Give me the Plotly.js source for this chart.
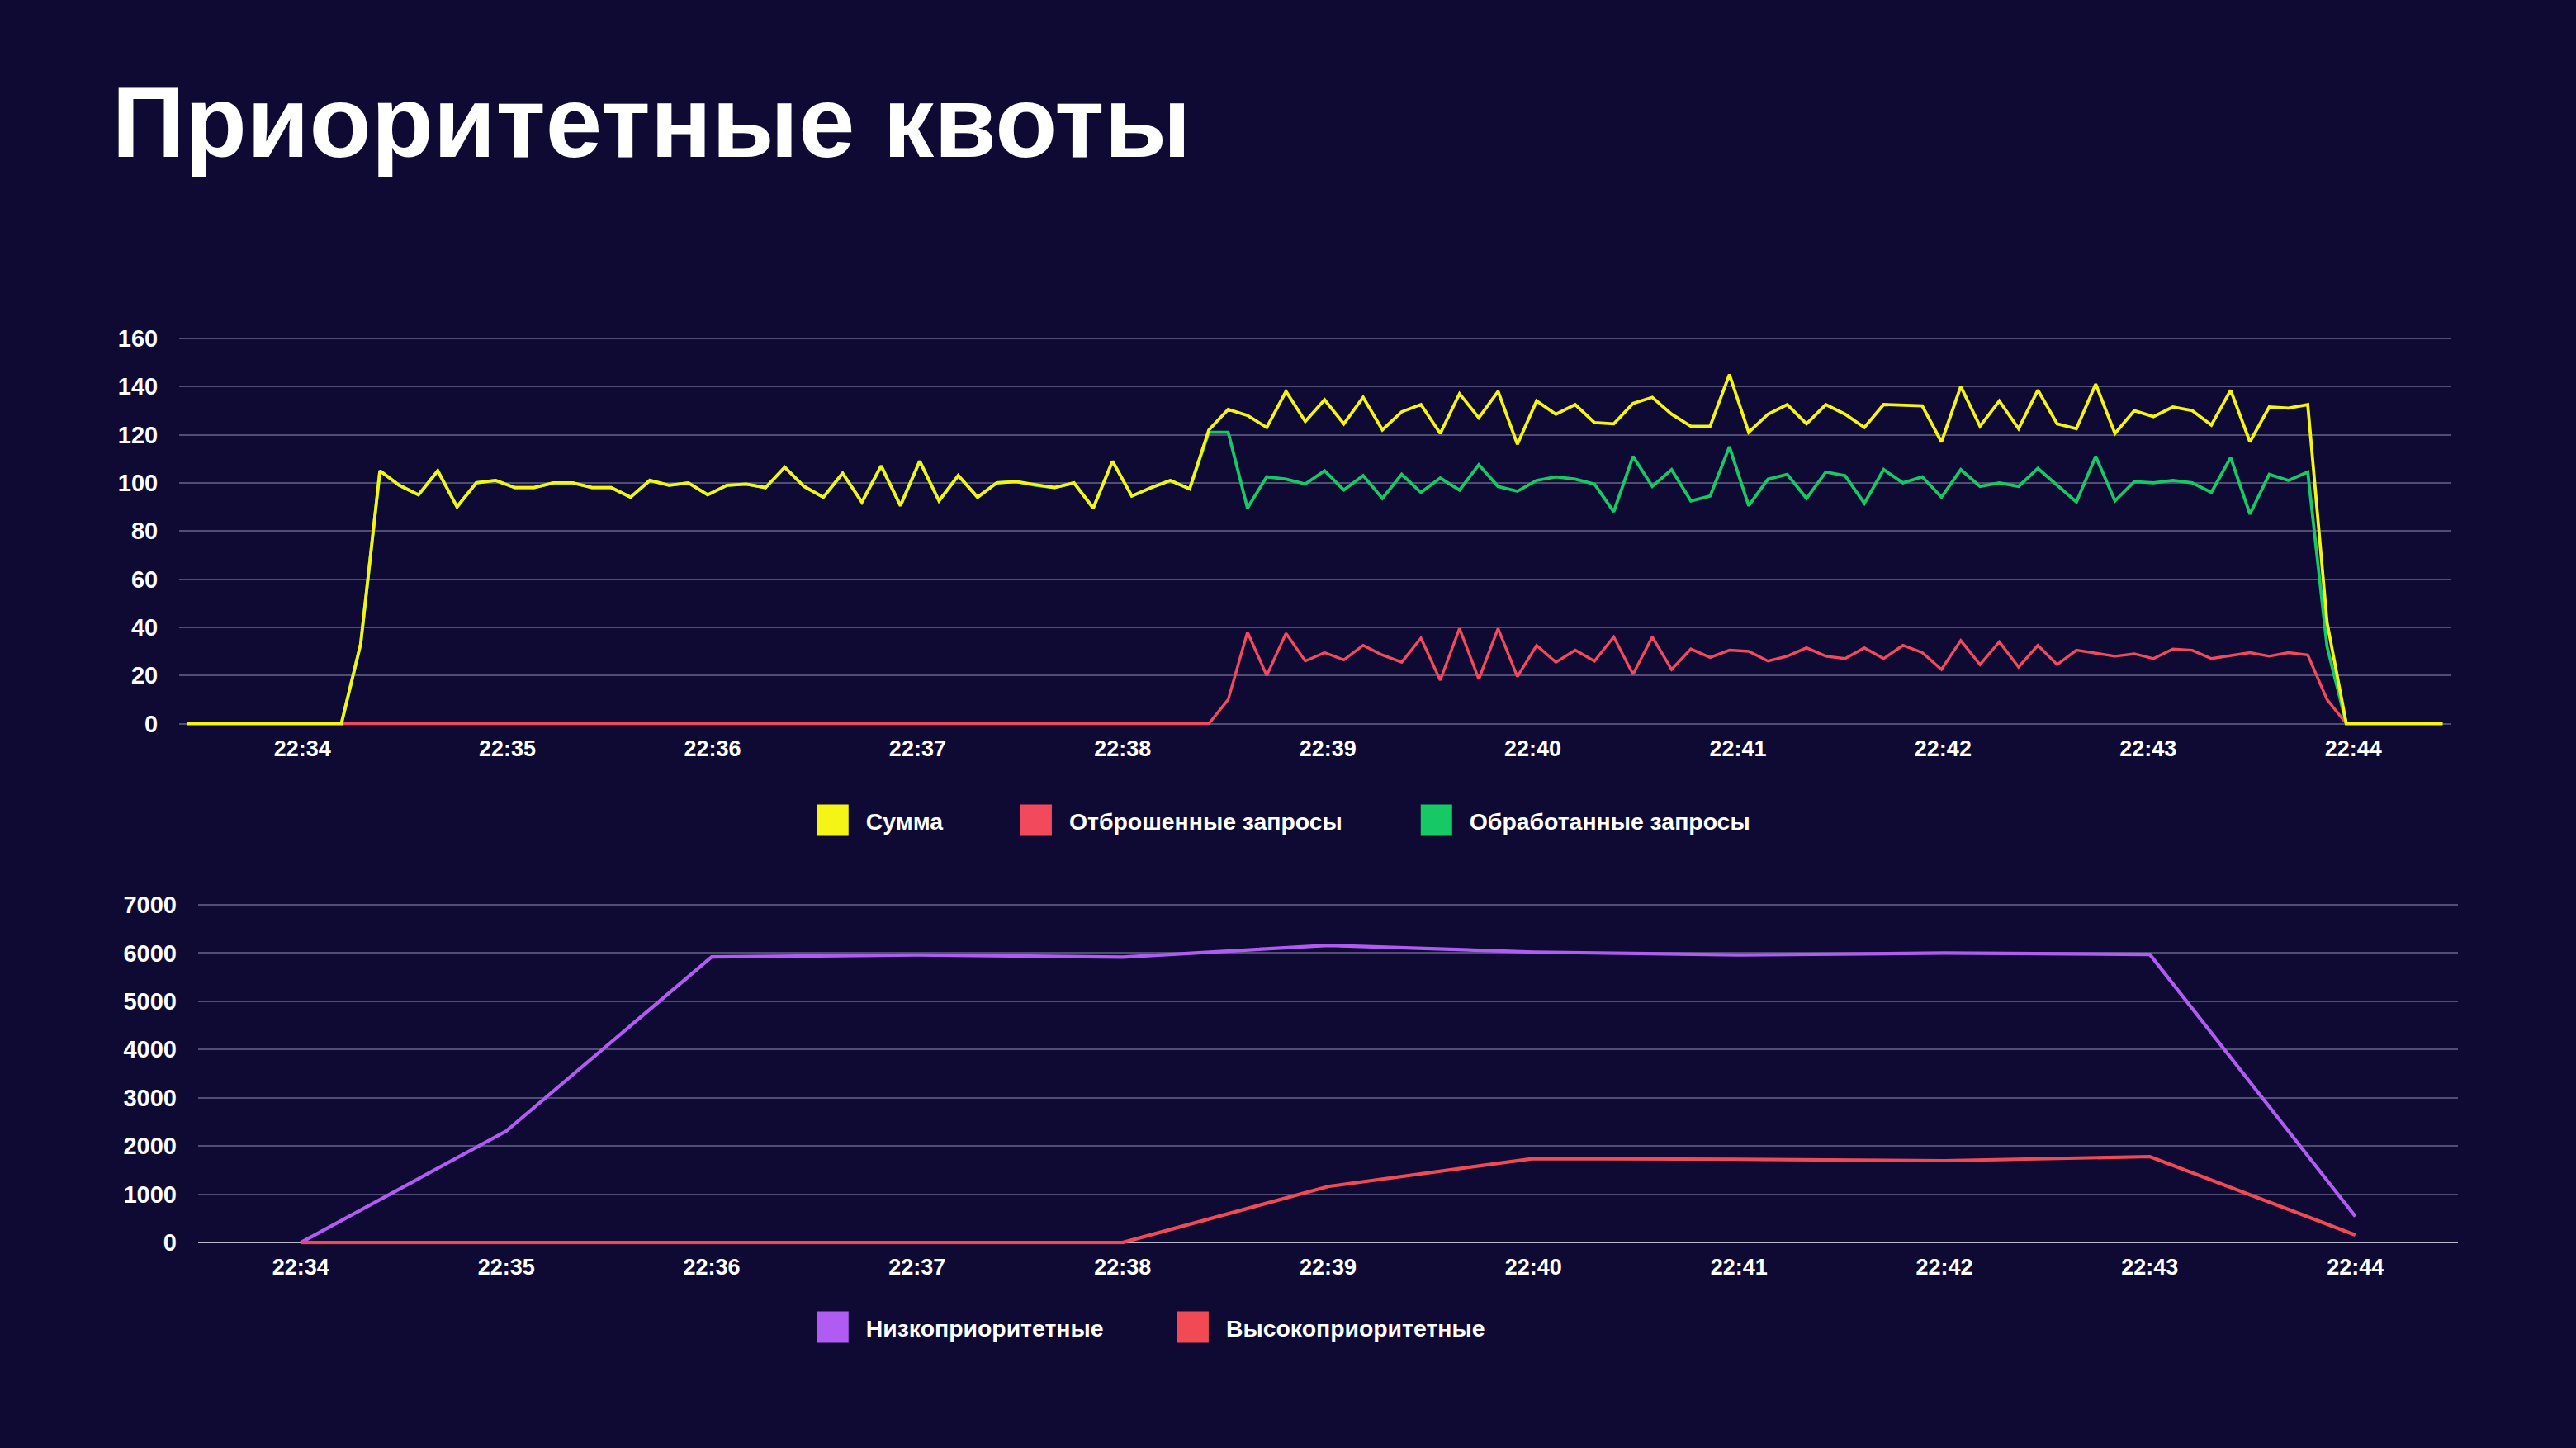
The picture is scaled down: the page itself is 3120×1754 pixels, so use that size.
<!DOCTYPE html>
<html>
<head>
<meta charset="utf-8">
<script src="https://cdn.plot.ly/plotly-3.0.1.min.js"></script>
<style>
  html { margin: 0; padding: 0; background: #0e0a33; overflow: hidden; }
  body { margin: 0; padding: 0; background: #0e0a33; width: 3120px; height: 1754px; }
  #chart { width: 1560px; height: 877px; transform: scale(2); transform-origin: 0 0; }
</style>
</head>
<body>
<div id="chart"></div>
<script>
"use strict";

// Верхний график: отсчёты каждые ~5.64 с, начиная с 22:33:26
const START_TOP = Date.UTC(2024, 0, 1, 22, 33, 26, 300);
const STEP_TOP_MS = 5640;

const sumValues = [
    0, 0, 0, 0, 0, 0, 0, 0, 0, 33,
    105, 99, 95, 105, 90, 100, 101, 98, 98, 100,
    100, 98, 98, 94, 101, 99, 100, 95, 99, 99.5,
    98, 106.5, 98.5, 94, 104, 92, 107, 90.5, 109, 92.5,
    103, 94, 100, 100.5, 99, 98, 100, 89.5, 109, 94.5,
    98, 101, 97.5, 122, 130.5, 128, 123, 138, 125.5, 134.5,
    124.5, 135.5, 122, 129.5, 132.5, 120.5, 137, 127, 138, 116,
    134, 128.5, 132.5, 125, 124.5, 133, 135.5, 128.5, 123.5, 123.5,
    145, 121, 128.5, 132.5, 124.5, 132.5, 128.5, 123, 132.5, 132.5,
    132, 117, 140, 123.5, 134, 122.5, 138.5, 124.5, 122.5, 141,
    120.5, 130, 127.5, 131.5, 130, 124, 138.5, 117, 131.5, 131,
    132.5, 42, 0, 0, 0, 0, 0, 0
];

const droppedValues = [
    null, null, null, null, null, null, null, null, 0, 0,
    0, 0, 0, 0, 0, 0, 0, 0, 0, 0,
    0, 0, 0, 0, 0, 0, 0, 0, 0, 0,
    0, 0, 0, 0, 0, 0, 0, 0, 0, 0,
    0, 0, 0, 0, 0, 0, 0, 0, 0, 0,
    0, 0, 0, 0, 10, 38, 20, 37.5, 26, 29.5,
    26.5, 32.5, 28.5, 25.5, 35.5, 18, 39.5, 18.5, 39.5, 19.5,
    32.5, 25.5, 30.5, 26, 36, 20.5, 36, 22.5, 31, 27.5,
    30.5, 30, 26, 28, 31.5, 28, 27, 31.5, 27, 32.5,
    29.5, 22.5, 34.5, 24.5, 34, 23.5, 32.5, 24.5, 30.5, 29.5,
    28, 29, 27, 31, 30.5, 27, 28, 29.5, 28, 29.5,
    28.5, 10, 0, null, null, null, null, null
];

const processedValues = [
    null, null, null, null, null, null, null, null, 0, 33,
    105, 99, 95, 105, 90, 100, 101, 98, 98, 100,
    100, 98, 98, 94, 101, 99, 100, 95, 99, 99.5,
    98, 106.5, 98.5, 94, 104, 92, 107, 90.5, 109, 92.5,
    103, 94, 100, 100.5, 99, 98, 100, 89.5, 109, 94.5,
    98, 101, 97.5, 121, 121, 89.5, 102.5, 101.5, 99.5, 105,
    97, 103, 93.5, 103.5, 96, 102, 97, 107.5, 98.5, 96.5,
    101, 102.5, 101.5, 99.5, 88, 111, 98.5, 105.5, 92.5, 94.5,
    115, 90.5, 101.5, 103.5, 93.5, 104.5, 103, 91.5, 105.5, 100,
    102.5, 94, 105.5, 98.5, 100, 98.5, 106, 99, 92, 111,
    92.5, 100.5, 100, 101, 100, 96, 110.5, 87, 103.5, 101,
    104.5, 32, 0, null, null, null, null, null
];

// Нижний график: по минутам
const minuteLabels = ['22:34', '22:35', '22:36', '22:37', '22:38', '22:39',
                      '22:40', '22:41', '22:42', '22:43', '22:44'];
const lowPriority  = [0, 2310, 5920, 5960, 5915, 6160, 6020, 5960, 6000, 5970, 540];
const highPriority = [0, 0, 0, 0, 0, 1160, 1740, 1725, 1695, 1780, 155];

const COLOR_SUM = '#f4f416';
const COLOR_DROP = '#f2495c';
const COLOR_OK = '#17c965';
const COLOR_LOW = '#b05cf2';
const COLOR_HIGH = '#f24a55';

const FONT = 'Liberation Sans, Arial, sans-serif';

const topTimes = sumValues.map((_, i) => START_TOP + i * STEP_TOP_MS);
const bottomTimes = minuteLabels.map(m => '2024-01-01 ' + m);

function lineTrace(x, y, color, width, xa, ya) {
    return {
        x: x, y: y, xaxis: xa, yaxis: ya,
        type: 'scatter', mode: 'lines',
        line: { color: color, width: width },
        showlegend: false,
        hoverinfo: 'skip'
    };
}

// Квадратики легенды (пустые трейсы, только для легенды)
function legendTrace(name, color, legendId, xa, ya) {
    return {
        x: [null], y: [null], xaxis: xa, yaxis: ya,
        type: 'scatter', mode: 'markers', name: name,
        marker: { symbol: 'square', size: 16, color: color, line: { color: color, width: 3 } },
        legend: legendId
    };
}

const traces = [
    lineTrace(topTimes, droppedValues, COLOR_DROP, 1.7, 'x', 'y'),
    lineTrace(topTimes, processedValues, COLOR_OK, 1.9, 'x', 'y'),
    lineTrace(topTimes, sumValues, COLOR_SUM, 1.9, 'x', 'y'),
    lineTrace(bottomTimes, lowPriority, COLOR_LOW, 2.1, 'x2', 'y2'),
    lineTrace(bottomTimes, highPriority, COLOR_HIGH, 2.1, 'x2', 'y2'),
    legendTrace('Сумма', COLOR_SUM, 'legend', 'x', 'y'),
    legendTrace('Отброшенные запросы', COLOR_DROP, 'legend2', 'x', 'y'),
    legendTrace('Обработанные запросы', COLOR_OK, 'legend3', 'x', 'y'),
    legendTrace('Низкоприоритетные', COLOR_LOW, 'legend4', 'x2', 'y2'),
    legendTrace('Высокоприоритетные', COLOR_HIGH, 'legend5', 'x2', 'y2')
];

const xTickFont = { family: FONT, size: 13.5, color: '#ffffff', weight: 'bold' };
const yTickFont = { family: FONT, size: 14.5, color: '#ffffff', weight: 'bold' };
const gridColor = 'rgba(175,175,205,0.42)';

function timeAxis(domain, range, anchor) {
    return {
        type: 'date', domain: domain, range: range, anchor: anchor,
        tickformat: '%H:%M', dtick: 60000, tick0: '2024-01-01 22:34',
        showgrid: false, zeroline: false, showline: false, ticks: '',
        tickfont: xTickFont, ticklabelstandoff: 4, fixedrange: true
    };
}

function valueAxis(domain, range, dtick, anchor, zeroColor) {
    return {
        domain: domain, range: range, dtick: dtick, tick0: 0, anchor: anchor,
        showgrid: true, gridcolor: gridColor, gridwidth: 1,
        zeroline: !!zeroColor, zerolinecolor: zeroColor || gridColor, zerolinewidth: 1.2,
        showline: false, ticks: '',
        tickfont: yTickFont, ticklabelstandoff: 12, fixedrange: true
    };
}

function legendAt(x, y) {
    return {
        x: x, y: y, xanchor: 'left', yanchor: 'middle',
        bgcolor: 'rgba(0,0,0,0)', borderwidth: 0,
        orientation: 'h', itemwidth: 30,
        font: { family: FONT, size: 14.2, color: '#ffffff', weight: 'bold' }
    };
}

const layout = {
    width: 1560, height: 877,
    margin: { l: 0, r: 0, t: 0, b: 0 },
    paper_bgcolor: '#0e0a33',
    plot_bgcolor: '#0e0a33',
    title: {
        text: 'Приоритетные квоты',
        font: { family: FONT, size: 61.5, color: '#ffffff', weight: 'bold' },
        xref: 'container', x: 0.0434, xanchor: 'left',
        yref: 'container', y: 0.9165, yanchor: 'middle'
    },
    xaxis: timeAxis([0.0696, 0.9516], ['2024-01-01 22:33:24', '2024-01-01 22:44:28.7'], 'y'),
    yaxis: valueAxis([0.4986, 0.7680], [-1, 161], 20, 'x', null),
    xaxis2: timeAxis([0.0769, 0.9542], ['2024-01-01 22:33:30', '2024-01-01 22:44:30'], 'y2'),
    yaxis2: valueAxis([0.1406, 0.3765], [-40, 7040], 1000, 'x2', 'rgba(215,215,235,0.85)'),
    legend: legendAt(0.3105, 0.4333),
    legend2: legendAt(0.3894, 0.4333),
    legend3: legendAt(0.5448, 0.4333),
    legend4: legendAt(0.3105, 0.0832),
    legend5: legendAt(0.4503, 0.0832),
    showlegend: true
};

const config = {
    responsive: false,
    displayModeBar: false,
    staticPlot: true
};

Plotly.newPlot('chart', traces, layout, config);
</script>
</body>
</html>
